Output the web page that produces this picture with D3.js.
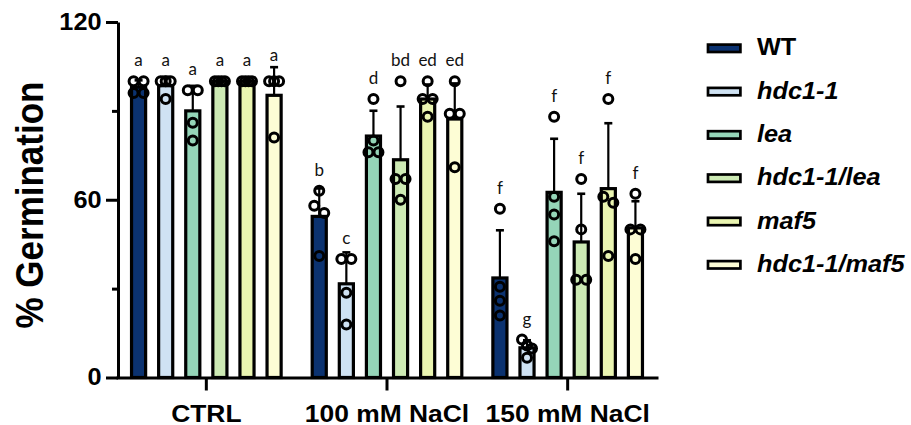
<!DOCTYPE html>
<html>
<head>
<meta charset="utf-8">
<script src="https://cdn.jsdelivr.net/npm/d3@7"></script>
<style>
  body { margin: 0; background: #fff; }
  svg { display: block; }
</style>
</head>
<body>
<script>
// ---------- data ----------
const groups = ["CTRL", "100 mM NaCl", "150 mM NaCl"];
const genotypes = ["WT", "hdc1-1", "lea", "hdc1-1/lea", "maf5", "hdc1-1/maf5"];
const colors = ["#0b3270", "#cfe2f3", "#95d5b8", "#cdeab4", "#eaf5b1", "#fdfdd5"];

// individual replicate values (% germination) per group: CTRL, 100 mM, 150 mM
const WT          = [[100, 100, 96, 96], [63, 58, 55.5, 41], [57, 30.6, 25.9, 20.9]];
const hdc1_1      = [[100, 100, 100, 94], [40, 40, 28.6, 17.9], [12.8, 10.8, 9.8, 6.7]];
const lea         = [[97, 97, 86, 80], [94, 80, 76, 76], [88, 61, 55, 46]];
const hdc1_1_lea  = [[100, 100, 100, 100], [100, 67, 67, 60], [67, 50, 33, 33]];
const maf5        = [[100, 100, 100, 100], [100, 94, 94, 88], [94, 61, 59, 41]];
const hdc1_1_maf5 = [[100, 100, 100, 81], [100, 89, 89, 71], [62, 50, 50, 40]];
const series = [WT, hdc1_1, lea, hdc1_1_lea, maf5, hdc1_1_maf5];

// significance letters per group
const lettersCTRL = ["a", "a", "a", "a", "a", "a"];
const letters100  = ["b", "c", "d", "bd", "ed", "ed"];
const letters150  = ["f", "g", "f", "f", "f", "f"];
const letters = [lettersCTRL, letters100, letters150];

const yTicksMajor = [0, 60, 120];
const yTicksMinor = [30, 90];

// ---------- layout ----------
const W = 911, H = 425;
const STRETCH = 1.1;
const FONT = "'Liberation Sans', Arial, Helvetica, sans-serif";

const svg = d3.select("body").append("svg").attr("width", W).attr("height", H);

const y = d3.scaleLinear().domain([0, 120]).range([377.5, 22]);
const x0 = d3.scaleBand().domain(groups).range([116, 658]);
const x1 = d3.scaleBand().domain(genotypes).range([0, x0.bandwidth()])
  .paddingInner(0.48).paddingOuter(0.573);

const R = 4.5;

const plot = svg.append("g");

groups.forEach((grp, gi) => {
  genotypes.forEach((gen, k) => {
    const pts = series[k][gi];
    const m = d3.mean(pts);
    const sd = d3.deviation(pts);
    const bx = x0(grp) + x1(gen);
    const cx = bx + x1.bandwidth() / 2;

    // bar
    plot.append("rect")
      .attr("x", bx).attr("width", x1.bandwidth())
      .attr("y", y(m)).attr("height", y(0) - y(m))
      .attr("fill", colors[k]).attr("stroke", "#000").attr("stroke-width", 3.2);

    // error bar (upper)
    plot.append("line")
      .attr("x1", cx).attr("x2", cx).attr("y1", y(m)).attr("y2", y(m + sd))
      .attr("stroke", "#000").attr("stroke-width", 2.2);
    plot.append("line")
      .attr("x1", cx - 4).attr("x2", cx + 4).attr("y1", y(m + sd)).attr("y2", y(m + sd))
      .attr("stroke", "#000").attr("stroke-width", 2.6);

    // dots: cluster near-equal values and spread horizontally
    const sorted = pts.slice().sort((a, b) => b - a);
    const clusters = [];
    sorted.forEach(v => {
      const last = clusters[clusters.length - 1];
      if (last && Math.abs(y(last[last.length - 1]) - y(v)) < 8) last.push(v);
      else clusters.push([v]);
    });
    clusters.forEach(c => {
      const n = c.length;
      c.forEach((v, j) => {
        const off = n === 1 ? 0 : -5 + (10 * j) / (n - 1);
        plot.append("circle")
          .attr("cx", cx + off).attr("cy", y(v)).attr("r", R)
          .attr("fill", "none").attr("stroke", "#000").attr("stroke-width", 3);
      });
    });

    // letter
    const top = Math.min(y(d3.max(pts)) - R - 1.5 - 9, y(m + sd) - 6.5);
    plot.append("text")
      .attr("x", cx).attr("y", top)
      .attr("text-anchor", "middle")
      .attr("font-family", "Lato, 'Open Sans', sans-serif")
      .attr("font-size", 17)
      .attr("fill", "#111")
      .text(letters[gi][k]);
  });
});

// ---------- axes ----------
const xAxisG = svg.append("g").attr("transform", `translate(0,${y(0)})`)
  .call(d3.axisBottom(x0).tickSize(13).tickSizeOuter(0).tickPadding(14));
xAxisG.select(".domain").attr("stroke-width", 3);
xAxisG.selectAll(".tick line").attr("stroke-width", 3);
xAxisG.selectAll(".tick text")
  .attr("font-family", FONT).attr("font-size", 24).attr("font-weight", "bold")
  .attr("fill", "#000")
  .attr("transform", `scale(${STRETCH},1)`);

const yAxisG = svg.append("g").attr("transform", "translate(118,0)")
  .call(d3.axisLeft(y).tickValues(yTicksMajor).tickSize(12).tickSizeOuter(0).tickPadding(3));
yAxisG.select(".domain").attr("stroke-width", 3);
yAxisG.selectAll(".tick line").attr("stroke-width", 3);
yAxisG.selectAll(".tick text")
  .attr("font-family", FONT).attr("font-size", 23).attr("font-weight", "bold")
  .attr("fill", "#000")
  .attr("transform", `scale(${STRETCH},1)`);

const yMinorG = svg.append("g").attr("transform", "translate(118,0)")
  .call(d3.axisLeft(y).tickValues(yTicksMinor).tickSize(6).tickFormat(""));
yMinorG.select(".domain").remove();
yMinorG.selectAll(".tick line").attr("stroke-width", 3);

// y title
svg.append("text")
  .attr("transform", `translate(43,205) scale(${STRETCH},1) rotate(-90)`)
  .attr("text-anchor", "middle")
  .attr("font-family", FONT).attr("font-size", 35).attr("font-weight", "bold")
  .attr("fill", "#000")
  .text("% Germination");

// ---------- legend ----------
const legend = svg.append("g");
genotypes.forEach((gen, i) => {
  const g = legend.append("g").attr("transform", `translate(0,${48.3 + i * 43.3})`);
  g.append("rect")
    .attr("x", 708).attr("y", -3.7).attr("width", 32.4).attr("height", 7.4)
    .attr("fill", colors[i]).attr("stroke", "#000").attr("stroke-width", 2.7);
  g.append("text")
    .attr("transform", `translate(757,7) scale(${STRETCH},1)`)
    .attr("font-family", FONT).attr("font-size", 23).attr("font-weight", "bold")
    .attr("font-style", i === 0 ? "normal" : "italic")
    .attr("fill", "#000")
    .text(gen);
});
</script>
</body>
</html>
